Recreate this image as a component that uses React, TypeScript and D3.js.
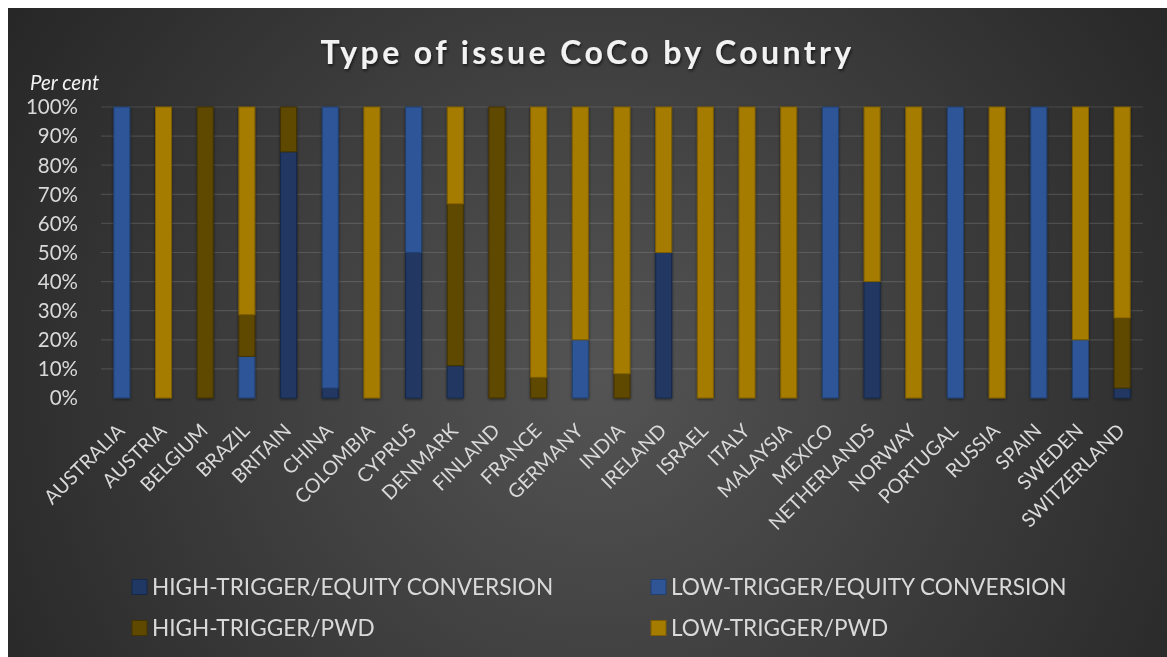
import React from "react";
import * as d3 from "d3";

// Countries along the category axis
const countries = [
  "AUSTRALIA", "AUSTRIA", "BELGIUM", "BRAZIL", "BRITAIN", "CHINA", "COLOMBIA",
  "CYPRUS", "DENMARK", "FINLAND", "FRANCE", "GERMANY", "INDIA", "IRELAND",
  "ISRAEL", "ITALY", "MALAYSIA", "MEXICO", "NETHERLANDS", "NORWAY", "PORTUGAL",
  "RUSSIA", "SPAIN", "SWEDEN", "SWITZERLAND",
];

// Share of issues by type (per cent), stacked bottom to top in this order
const highTriggerEquity = [0, 0, 0, 0, 84.6, 3.4, 0, 50, 11.1, 0, 0, 0, 0, 50, 0, 0, 0, 0, 40, 0, 0, 0, 0, 0, 3.4];
const lowTriggerEquity = [100, 0, 0, 14.3, 0, 96.6, 0, 50, 0, 0, 0, 20, 0, 0, 0, 0, 0, 100, 0, 0, 100, 0, 100, 20, 0];
const highTriggerPwd = [0, 0, 100, 14.3, 15.4, 0, 0, 0, 55.6, 100, 7.1, 0, 8.3, 0, 0, 0, 0, 0, 0, 0, 0, 0, 0, 0, 24.1];
const lowTriggerPwd = [0, 100, 0, 71.4, 0, 0, 100, 0, 33.3, 0, 92.9, 80, 91.7, 50, 100, 100, 100, 0, 60, 100, 0, 100, 0, 80, 72.5];

const seriesNames = [
  "HIGH-TRIGGER/EQUITY CONVERSION",
  "LOW-TRIGGER/EQUITY CONVERSION",
  "HIGH-TRIGGER/PWD",
  "LOW-TRIGGER/PWD",
];

const yTicks = [0, 10, 20, 30, 40, 50, 60, 70, 80, 90, 100];

const fills = ["#203864", "#2f5597", "#5f4800", "#a67c00"];
const strokes = ["#16284a", "#22406f", "#433300", "#7d5d00"];

const W = 1159;
const H = 649;
const FONT = "Lato, 'Open Sans', sans-serif";

export default function App() {
  const series = [highTriggerEquity, lowTriggerEquity, highTriggerPwd, lowTriggerPwd];
  const rows = countries.map((c, i) => ({
    country: c,
    v0: series[0][i],
    v1: series[1][i],
    v2: series[2][i],
    v3: series[3][i],
  }));
  const stacked = d3.stack<any>().keys(["v0", "v1", "v2", "v3"])(rows);

  const x = d3
    .scaleBand<string>()
    .domain(countries)
    .range([93, 1135])
    .paddingInner(0.615)
    .paddingOuter(0.3075);
  const y = d3.scaleLinear().domain([0, 100]).range([390, 99]);

  const legendItems = [
    { x: 124, y: 579 },
    { x: 643, y: 579 },
    { x: 124, y: 620 },
    { x: 643, y: 620 },
  ];

  return (
    <div style={{ position: "fixed", left: 8, top: 8, width: W + 16, height: H + 16, overflow: "hidden" }}>
      <svg width={W + 16} height={H + 16} style={{ display: "block" }}>
        <defs>
          <radialGradient id="bg" gradientUnits="userSpaceOnUse" cx={590} cy={370} r={720}>
            <stop offset="0" stopColor="#545454" />
            <stop offset="1" stopColor="#252525" />
          </radialGradient>
          <filter id="barShadow" x="-50%" y="-10%" width="200%" height="120%">
            <feDropShadow dx="0" dy="1" stdDeviation="1.6" floodColor="#000" floodOpacity="0.55" />
          </filter>
          <filter id="textShadow" x="-10%" y="-30%" width="120%" height="160%">
            <feDropShadow dx="1" dy="2" stdDeviation="1.5" floodColor="#000" floodOpacity="0.6" />
          </filter>
        </defs>
        <rect width={W + 16} height={H + 16} fill="url(#bg)" />

        <text
          x={579.5}
          y={55.5}
          textAnchor="middle"
          fontFamily={FONT}
          fontWeight={700}
          fontSize={32}
          letterSpacing={3.4}
          fill="#f2f2f2"
          filter="url(#textShadow)"
        >
          Type of issue CoCo by Country
        </text>

        <text x={22} y={82} fontFamily={FONT} fontStyle="italic" fontSize={20.5} fill="#f2f2f2">
          Per cent
        </text>

        {yTicks.filter((t) => t > 0).map((t) => (
          <line
            key={"g" + t}
            x1={93}
            x2={1135}
            y1={y(t)}
            y2={y(t)}
            stroke="#ffffff"
            strokeOpacity={0.13}
            strokeWidth={1.2}
          />
        ))}
        {yTicks.map((t) => (
          <text
            key={"t" + t}
            x={70}
            y={y(t)}
            dy="0.36em"
            textAnchor="end"
            fontFamily={FONT}
            fontSize={20.5}
            fill="#d9d9d9"
          >
            {t}%
          </text>
        ))}

        <g filter="url(#barShadow)">
          {stacked.map((layer, si) =>
            layer.map((d, i) =>
              d[1] - d[0] > 0 ? (
                <rect
                  key={si + "-" + i}
                  x={x(countries[i])}
                  y={y(d[1])}
                  width={x.bandwidth()}
                  height={y(d[0]) - y(d[1])}
                  fill={fills[si]}
                  stroke={strokes[si]}
                  strokeWidth={1}
                />
              ) : null
            )
          )}
        </g>

        <line x1={93} x2={1135} y1={y(0)} y2={y(0)} stroke="#bfbfbf" strokeWidth={2} filter="url(#barShadow)" />

        {countries.map((c) => {
          const cx = (x(c) as number) + x.bandwidth() / 2;
          return (
            <text
              key={c}
              transform={`translate(${cx + 4},${424}) rotate(-45)`}
              textAnchor="end"
              fontFamily={FONT}
              fontSize={19.6}
              fill="#d9d9d9"
            >
              {c}
            </text>
          );
        })}

        {seriesNames.map((name, i) => (
          <g key={name} transform={`translate(${legendItems[i].x},${legendItems[i].y})`}>
            <rect x={0} y={-7.5} width={15} height={15} fill={fills[i]} stroke={strokes[i]} strokeWidth={1} />
            <text x={20} y={0} dy="0.36em" fontFamily={FONT} fontSize={22.6} fill="#d9d9d9">
              {name}
            </text>
          </g>
        ))}
      </svg>
    </div>
  );
}
